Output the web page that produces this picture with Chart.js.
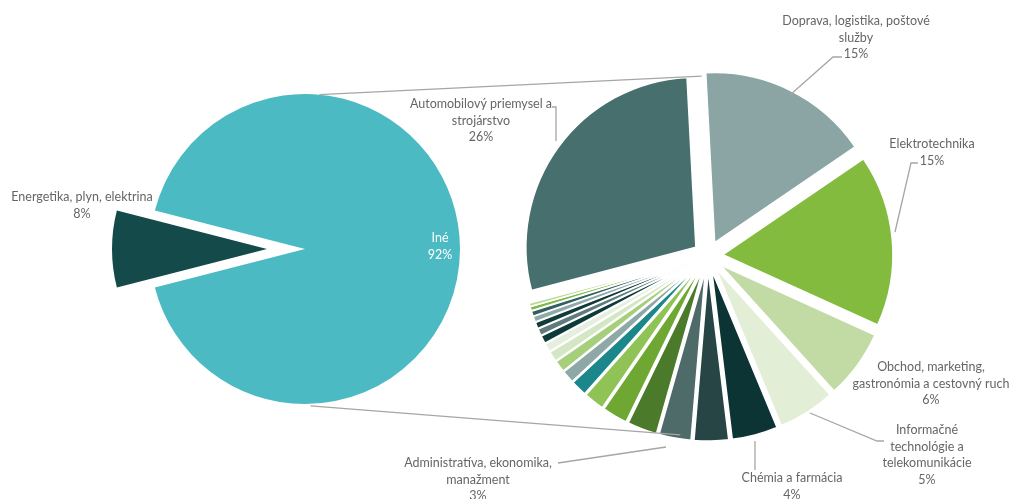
<!DOCTYPE html>
<html><head><meta charset="utf-8">
<script src="https://cdn.jsdelivr.net/npm/chart.js@4.4.1/dist/chart.umd.min.js"></script>
<style>
html,body{margin:0;padding:0;background:#fff;overflow:hidden}
#wrap{position:relative;width:1011px;height:499px}
canvas{position:absolute;left:0;top:0}
</style></head><body>
<div id="wrap"><canvas id="c1" width="1011" height="499"></canvas><canvas id="c2" width="1011" height="499"></canvas></div>
<script>
// ---- data (percent of the whole; the secondary pie splits "Iné") ----
const mainCategories = ['Energetika, plyn, elektrina', 'Iné'];
const mainValues = [8, 92];

const secondaryCategories = [
  'Doprava, logistika, poštové služby',
  'Elektrotechnika',
  'Obchod, marketing, gastronómia a cestovný ruch',
  'Informačné technológie a telekomunikácie',
  'Chémia a farmácia',
  'Administratíva, ekonomika, manažment',
  '', '', '', '', '', '', '', '', '', '', '', '', '', '', '', '',
  'Automobilový priemysel a strojárstvo'
];
const secondaryValues = [15, 15, 6, 5, 4, 3,
  2.8, 2.6, 2.2, 1.8, 1.4, 1.1, 1.0, 0.9, 0.75, 0.7, 0.6, 0.55, 0.5, 0.45, 0.35, 0.3,
  26];

// ---- styles ----
const mainColors = ['#144a4a', '#4cbac3'];
const secondaryColors = ['#8aa5a4', '#83bb3e', '#c2dba5', '#e2eed6', '#0d3434', '#284546',
  '#4e6a69', '#4a7a2a', '#6ea832', '#8fc356', '#1b878a', '#8ea8a8', '#a6cf7c', '#d3e7c4',
  '#e6efdf', '#0d3b39', '#5f7b7b', '#123c3a', '#90a8a8', '#2f5f5f', '#7fb84a', '#b6d88e',
  '#466f6e'];
const mainExplode = [38, 0];
const secondaryExplode = secondaryValues.map(() => 15);

// label layout: which chart/slice, how the name is broken in lines, where it sits
const labelLayout = [
  {chart: 'sec', i: 0, lines: ['Doprava, logistika, poštové', 'služby'], x: 856, y: 21, leader: [[842,57],[833,57],[790,95]]},
  {chart: 'sec', i: 1, lines: ['Elektrotechnika'], x: 932, y: 144, leader: [[918,163],[911,163],[895,232]]},
  {chart: 'sec', i: 2, lines: ['Obchod, marketing,', 'gastronómia a cestovný ruch'], x: 931, y: 367, leader: null},
  {chart: 'sec', i: 3, lines: ['Informačné', 'technológie a', 'telekomunikácie'], x: 927, y: 430, leader: [[884,441],[877,441],[810,413]]},
  {chart: 'sec', i: 4, lines: ['Chémia a farmácia'], x: 792, y: 478, leader: [[755,470],[755,441]]},
  {chart: 'sec', i: 5, lines: ['Administratíva, ekonomika,', 'manažment'], x: 478, y: 463, leader: [[558,463],[666,447]]},
  {chart: 'sec', i: 22, lines: ['Automobilový priemysel a', 'strojárstvo'], x: 481, y: 104, leader: [[552,107],[556,107],[556,141]]},
  {chart: 'main', i: 0, lines: ['Energetika, plyn, elektrina'], x: 82, y: 197, leader: null},
  {chart: 'main', i: 1, lines: ['Iné'], x: 440, y: 238, leader: null, color: '#ffffff'}
];
const lineHeight = 16.5;

// ---- plugins ----
const explodePlugin = {
  id: 'explode',
  afterDatasetUpdate(chart, args, opts) {
    const dist = opts.distances || [];
    const meta = chart.getDatasetMeta(args.index);
    meta.data.forEach((arc, k) => {
      const d = dist[k] || 0;
      if (!d) return;
      const mid = (arc.startAngle + arc.endAngle) / 2;
      arc.x += Math.cos(mid) * d;
      arc.y += Math.sin(mid) * d;
    });
  }
};

let mainChart;
const overlayPlugin = {
  id: 'overlay',
  afterDraw(chart) {
    const ctx = chart.ctx;
    const mA = mainChart.chartArea, sA = chart.chartArea;
    const mc = {x: (mA.left + mA.right) / 2, y: (mA.top + mA.bottom) / 2, r: mainChart.getDatasetMeta(0).data[1].outerRadius};
    const sc = {x: (sA.left + sA.right) / 2, y: (sA.top + sA.bottom) / 2, r: chart.getDatasetMeta(0).data[0].outerRadius};
    const pt = (c, deg, extra) => [c.x + Math.cos(deg * Math.PI / 180) * (c.r + extra), c.y + Math.sin(deg * Math.PI / 180) * (c.r + extra)];
    ctx.save();
    ctx.strokeStyle = '#a6a6a6';
    ctx.lineWidth = 1.3;
    // connector lines between the pies
    [[pt(mc, -84.7, 0), pt(sc, -92, 10)], [pt(mc, 88, 2), pt(sc, 98.8, 11)]].forEach(([a, b]) => {
      ctx.beginPath(); ctx.moveTo(a[0], a[1]); ctx.lineTo(b[0], b[1]); ctx.stroke();
    });
    // leader lines
    labelLayout.forEach(l => {
      if (!l.leader) return;
      ctx.beginPath();
      l.leader.forEach((p, k) => k ? ctx.lineTo(p[0], p[1]) : ctx.moveTo(p[0], p[1]));
      ctx.stroke();
    });
    // labels (percent of the whole)
    const grandTotal = mainValues.reduce((s, v) => s + v, 0);
    ctx.font = '12.5px Lato, "Open Sans", sans-serif';
    ctx.textAlign = 'center';
    ctx.textBaseline = 'middle';
    labelLayout.forEach(l => {
      const vals = l.chart === 'main' ? mainValues : secondaryValues;
      const pct = Math.round(vals[l.i] / grandTotal * 100) + '%';
      const lines = l.lines.concat([pct]);
      ctx.fillStyle = l.color || '#666666';
      lines.forEach((t, k) => ctx.fillText(t, l.x, l.y + k * lineHeight));
    });
    ctx.restore();
  }
};

// ---- charts ----
const W = 1011, H = 499;
const mainCenter = {x: 305, y: 249}, mainRadius = 155;
const secCenter = {x: 708, y: 256}, secRadius = 170;

mainChart = new Chart(document.getElementById('c1'), {
  type: 'pie',
  data: {labels: mainCategories, datasets: [{data: mainValues, backgroundColor: mainColors, borderWidth: 0}]},
  options: {
    responsive: false, animation: false, events: [],
    rotation: 255.6, radius: mainRadius,
    layout: {padding: {left: 0, top: 0, right: W - 2 * mainCenter.x, bottom: H - 2 * mainCenter.y}},
    plugins: {legend: {display: false}, tooltip: {enabled: false}, explode: {distances: mainExplode}}
  },
  plugins: [explodePlugin]
});

new Chart(document.getElementById('c2'), {
  type: 'pie',
  data: {labels: secondaryCategories, datasets: [{data: secondaryValues, backgroundColor: secondaryColors, borderColor: '#ffffff', borderWidth: 1.5}]},
  options: {
    responsive: false, animation: false, events: [],
    rotation: -3, radius: secRadius,
    layout: {padding: {left: 2 * secCenter.x - W, top: 2 * secCenter.y - H, right: 0, bottom: 0}},
    plugins: {legend: {display: false}, tooltip: {enabled: false}, explode: {distances: secondaryExplode}}
  },
  plugins: [explodePlugin, overlayPlugin]
});
</script>
</body></html>
